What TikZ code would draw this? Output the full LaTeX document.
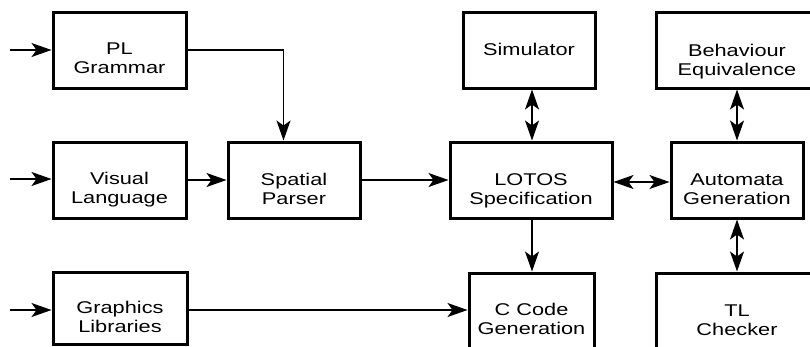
\documentclass[tikz,border=0pt]{standalone}
\usepackage{fontspec}
\setmainfont{Liberation Sans}[FakeStretch=1.28]
\usetikzlibrary{arrows.meta,calc}
\begin{document}
\begin{tikzpicture}[x=1pt,y=-1pt,
  box/.style={draw,line width=3pt,inner sep=0pt,minimum height=76pt},
  lbl/.style={align=center,font=\fontsize{17}{19.5}\selectfont,inner sep=0pt,text depth=0pt},
  tip/.tip={Stealth[length=20pt,width=14pt,inset=5pt]},
  conn/.style={line width=1.4pt,-tip},
  dbl/.style={line width=1.4pt,tip-tip}]
\useasboundingbox (0,0) rectangle (810,346);
% boxes
\node[box,minimum width=133pt] (pl) at (119.5,50) {};
\node[box,minimum width=133pt] (vl) at (119.5,180) {};
\node[box,minimum width=134pt,minimum height=72pt] (gl) at (120,308) {};
\node[box,minimum width=132pt] (sp) at (294,180) {};
\node[box,minimum width=132pt] (sim) at (529,50) {};
\node[box,minimum width=162pt] (lotos) at (531,180) {};
\node[box,minimum width=125pt] (cc) at (531.5,311) {};
\node[box,minimum width=162pt] (be) at (737,50) {};
\node[box,minimum width=132pt] (ag) at (737,180) {};
\node[box,minimum width=162pt] (tl) at (737,311) {};
% labels
\node[lbl] (pl-t) at ($(pl.center)+(0,8)$) {PL\\Grammar};
\node[lbl] (vl-t) at ($(vl.center)+(0,8)$) {Visual\\Language};
\node[lbl] (gl-t) at ($(gl.center)+(0,9)$) {Graphics\\Libraries};
\node[lbl] (sp-t) at ($(sp.center)+(0,9)$) {Spatial\\Parser};
\node[lbl] (sim-t) at ($(sim.center)+(0,-1)$) {Simulator};
\node[lbl] (lotos-t) at ($(lotos.center)+(0,9)$) {LOTOS\\Specification};
\node[lbl] (cc-t) at ($(cc.center)+(0,8)$) {C Code\\Generation};
\node[lbl] (be-t) at ($(be.center)+(0,10)$) {Behaviour\\Equivalence};
\node[lbl] (ag-t) at ($(ag.center)+(0,9)$) {Automata\\Generation};
\node[lbl] (tl-t) at ($(tl.center)+(0,9)$) {TL\\Checker};
% inputs
\coordinate (in1) at (10,50);
\coordinate (in2) at (10,179);
\coordinate (in3) at (10,310);
\draw[conn] (in1) -- (in1 -| pl.west);
\draw[conn] (in2) -- (in2 -| vl.west);
\draw[conn] (in3) -- (in3 -| gl.west);
% connectors
\draw[conn] (pl.east) -| ([xshift=57pt]sp.north west);
\draw[conn] (vl.east) -- (sp.west);
\draw[conn] (sp.east) -- (lotos.west);
\draw[conn] (in3 -| gl.east) -- (in3 -| cc.west);
\draw[conn] ([xshift=1pt]lotos.south) -- ([xshift=1pt]lotos.south |- cc.north);
\draw[dbl] ([xshift=1pt]lotos.north |- sim.south) -- ([xshift=1pt]lotos.north);
\draw[dbl] ([yshift=-2pt]lotos.east) -- ([yshift=-2pt]ag.west);
\draw[dbl] (be.south) -- (ag.north);
\draw[dbl] (ag.south) -- (ag.south |- tl.north);
\end{tikzpicture}
\end{document}
